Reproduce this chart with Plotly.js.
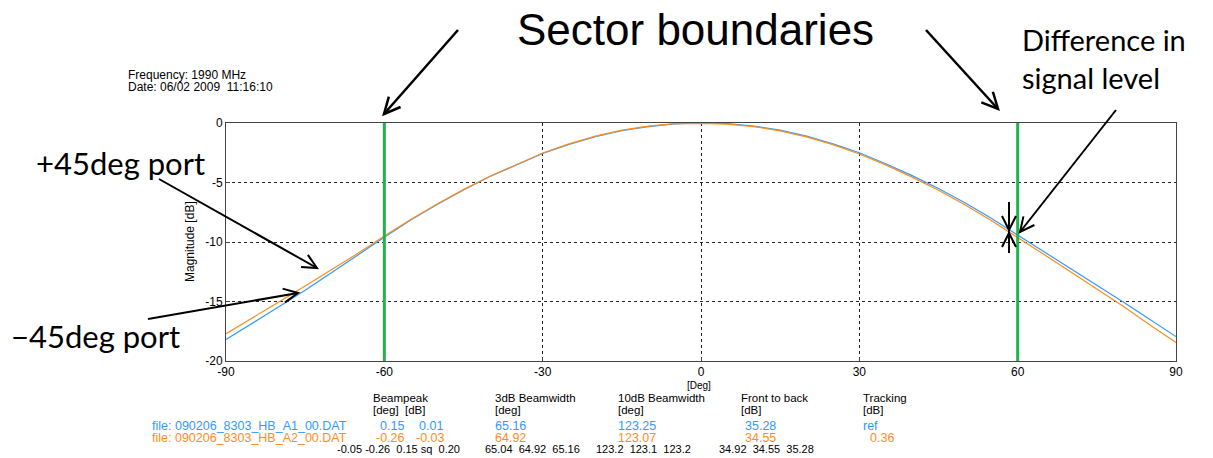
<!DOCTYPE html>
<html>
<head>
<meta charset="utf-8">
<script src="https://cdn.plot.ly/plotly-3.0.1.min.js"></script>
<style>html,body{margin:0;padding:0;background:#fff;}#chart{width:1213px;height:458px;}</style>
</head>
<body>
<div id="chart"></div>
<script>
// ---------- data ----------
const angles = [-90,-85,-80,-75,-70,-65,-60,-55,-50,-45,-40,-35,-30,-25,-20,-15,-10,-5,0,5,10,15,20,25,30,35,40,45,50,55,60,65,70,75,80,85,90];
const magA1 = [-18.2,-16.85,-15.45,-14.05,-12.6,-11.1,-9.6,-8.15,-6.85,-5.62,-4.5,-3.5,-2.56,-1.8,-1.15,-0.65,-0.3,-0.08,0,-0.05,-0.26,-0.6,-1.1,-1.75,-2.5,-3.42,-4.42,-5.5,-6.7,-8.0,-9.4,-10.85,-12.25,-13.65,-15.05,-16.5,-17.95];
const magA2 = [-17.7,-16.4,-15.05,-13.7,-12.35,-10.95,-9.5,-8.1,-6.8,-5.6,-4.48,-3.47,-2.52,-1.75,-1.1,-0.6,-0.26,-0.05,-0.03,-0.09,-0.3,-0.66,-1.17,-1.82,-2.6,-3.52,-4.55,-5.65,-6.87,-8.2,-9.6,-11.05,-12.5,-13.95,-15.4,-16.95,-18.45];
const sectorBounds = [-60, 60];
const xTicks = [-90,-60,-30,0,30,60,90];
const yTicks = [0,-5,-10,-15,-20];
const fileA1 = "file: 090206_8303_HB_A1_00.DAT";
const fileA2 = "file: 090206_8303_HB_A2_00.DAT";
const tableHeads = ["Beampeak","3dB Beamwidth","10dB Beamwidth","Front to back","Tracking"];
const tableUnits = ["[deg]  [dB]","[deg]","[deg]","[dB]","[dB]"];
const rowA1 = ["0.15","0.01","65.16","123.25","35.28","ref"];
const rowA2 = ["-0.26","-0.03","64.92","123.07","34.55","0.36"];
const rowStats = ["-0.05 -0.26  0.15 sq  0.20","65.04  64.92  65.16","123.2  123.1  123.2","34.92  34.55  35.28"];
const infoLines = ["Frequency: 1990 MHz","Date: 06/02 2009  11:16:10"];

// ---------- layout helpers ----------
const W = 1213, H = 458;
const L = 226, R = 37, T = 123, B = 97;
const PW = W - L - R, PH = H - T - B;
const px = x => (x - L) / PW;
const py = y => (H - B - y) / PH;
const BLUE = '#3399ff', ORANGE = '#ff8c1a';
const SMALL = 'Liberation Sans, Arial, sans-serif';
const CAL = 'Lato, sans-serif';

const annotations = [];
function txt(t, x, y, opts) {
  annotations.push(Object.assign({
    text: t, xref: 'paper', yref: 'paper', x: px(x), y: py(y),
    xanchor: 'left', yanchor: 'middle', align: 'left', showarrow: false, borderpad: 0,
    font: {family: SMALL, size: 12, color: '#000'}
  }, opts || {}));
}
const shapes = [];
function arrow(x1, y1, x2, y2, w, head) {
  shapes.push({type: 'line', xref: 'paper', yref: 'paper', x0: px(x1), y0: py(y1), x1: px(x2), y1: py(y2),
    line: {color: '#000', width: w}});
  const a = Math.atan2(y2 - y1, x2 - x1);
  const s = 0.45;
  const ax1 = x2 - head * Math.cos(a - s), ay1 = y2 - head * Math.sin(a - s);
  const ax2 = x2 - head * Math.cos(a + s), ay2 = y2 - head * Math.sin(a + s);
  shapes.push({type: 'path', xref: 'paper', yref: 'paper',
    path: `M ${px(ax1)} ${py(ay1)} L ${px(x2)} ${py(y2)} L ${px(ax2)} ${py(ay2)}`,
    line: {color: '#000', width: w}});
}

// sector boundary lines (data x)
sectorBounds.forEach(v => shapes.push({type: 'line', xref: 'x', yref: 'paper', x0: v, x1: v, y0: 0, y1: 1,
  line: {color: '#22b14c', width: 3}}));

// info text
txt(infoLines[0], 127, 75);
txt(infoLines[1], 127, 87);

// axis title replacements
txt('Magnitude [dB]', 190, 242, {xanchor: 'center', textangle: -90, font: {family: SMALL, size: 12, color: '#000'}});
txt('[Deg]', 699, 385, {xanchor: 'center', font: {family: SMALL, size: 10, color: '#000'}});

// table
const headX = [372, 494, 617, 740, 862];
tableHeads.forEach((h, i) => {
  txt(h, headX[i], 398, {font: {family: SMALL, size: 11.5, color: '#000'}});
  txt(tableUnits[i], headX[i], 410, {font: {family: SMALL, size: 11.5, color: '#000'}});
});
txt(fileA1, 151, 426, {font: {family: SMALL, size: 12.5, color: BLUE}});
txt(fileA2, 151, 438, {font: {family: SMALL, size: 12.5, color: ORANGE}});
const valX1 = [379, 418, 494, 617, 744, 862];
const valX2 = [375, 415, 494, 617, 744, 869];
rowA1.forEach((v, i) => txt(v, valX1[i], 426, {font: {family: SMALL, size: 12.5, color: BLUE}}));
rowA2.forEach((v, i) => txt(v, valX2[i], 438, {font: {family: SMALL, size: 12.5, color: ORANGE}}));
const statX = [336, 484, 595, 718];
rowStats.forEach((v, i) => txt(v, statX[i], 449, {font: {family: SMALL, size: 11, color: '#000'}}));

// slide callouts
txt('Sector boundaries', 695, 29, {xanchor: 'center', font: {family: SMALL, size: 44, color: '#000'}});
txt('Difference in<br>signal level', 1021, 58, {font: {family: CAL, size: 29, color: '#000'}});
txt('+45deg port', 35, 163, {font: {family: CAL, size: 31, color: '#000'}});
txt('\u221245deg port', 10, 336, {font: {family: CAL, size: 31, color: '#000'}});

arrow(458, 30, 384, 114, 2.5, 18);
arrow(926, 30, 998, 109, 2.5, 18);
arrow(1116, 110, 1020, 232, 2, 16);
arrow(159, 179, 317, 268, 2, 16);
arrow(148, 319, 298, 293, 2, 16);
// difference marker
shapes.push({type: 'line', xref: 'paper', yref: 'paper', x0: px(1009), x1: px(1009), y0: py(202), y1: py(253), line: {color: '#000', width: 2}});
shapes.push({type: 'path', xref: 'paper', yref: 'paper', path: `M ${px(1002)} ${py(216)} L ${px(1009)} ${py(230)} L ${px(1016)} ${py(216)}`, line: {color: '#000', width: 2}});
shapes.push({type: 'path', xref: 'paper', yref: 'paper', path: `M ${px(1002)} ${py(247)} L ${px(1009)} ${py(233)} L ${px(1016)} ${py(247)}`, line: {color: '#000', width: 2}});

const traces = [
  {x: angles, y: magA1, type: 'scatter', mode: 'lines', line: {color: BLUE, width: 1.2}, name: 'A1'},
  {x: angles, y: magA2, type: 'scatter', mode: 'lines', line: {color: ORANGE, width: 1.2}, name: 'A2'}
];

const axisCommon = {
  showline: true, mirror: true, linecolor: '#444', linewidth: 1,
  showgrid: true, gridcolor: '#222', gridwidth: 1, griddash: '3px,3px',
  zeroline: false, ticks: 'inside', ticklen: 4, tickcolor: '#444',
  tickfont: {family: SMALL, size: 12, color: '#000'}, fixedrange: true
};

const layout = {
  width: W, height: H,
  margin: {l: L, r: R, t: T, b: B, pad: 0},
  paper_bgcolor: '#fff', plot_bgcolor: '#fff',
  showlegend: false,
  xaxis: Object.assign({}, axisCommon, {range: [-90, 90], tickvals: xTicks, ticktext: xTicks.map(String)}),
  yaxis: Object.assign({}, axisCommon, {range: [-20, 0], tickvals: yTicks, ticktext: yTicks.map(String)}),
  shapes: shapes,
  annotations: annotations
};

Plotly.newPlot('chart', traces, layout, {staticPlot: true, displayModeBar: false});
</script>
</body>
</html>
